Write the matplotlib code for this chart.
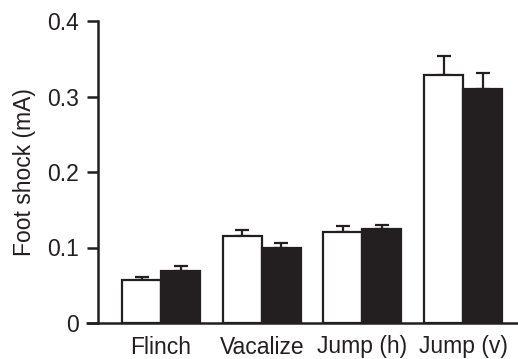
import matplotlib
matplotlib.use("Agg")
import matplotlib.pyplot as plt
import numpy as np

categories = ["Flinch", "Vacalize", "Jump (h)", "Jump (v)"]
white_vals = [0.057, 0.115, 0.120, 0.328]
white_err = [0.004, 0.008, 0.009, 0.025]
black_vals = [0.069, 0.099, 0.124, 0.310]
black_err = [0.007, 0.007, 0.006, 0.021]
yticks = [0, 0.1, 0.2, 0.3, 0.4]
ytick_labels = ["0", "0.1", "0.2", "0.3", "0.4"]

plt.rcParams['font.family'] = ['Liberation Sans', 'DejaVu Sans']
fig = plt.figure(figsize=(5.18, 3.59), dpi=100)
ax = fig.add_axes([98/518, 36/359, 420/518, 302/359])

x = np.arange(len(categories))
w = 0.387
dark = "#231f20"
lw = 1.6
ax.bar(x - w/2, white_vals, w, color="white", edgecolor=dark, linewidth=lw, zorder=2)
ax.bar(x + w/2, black_vals, w, color=dark, edgecolor=dark, linewidth=lw, zorder=2)
ax.errorbar(x - w/2, white_vals, yerr=[[0]*len(x), white_err], fmt="none",
            ecolor=dark, elinewidth=1.6, capsize=5, capthick=1.6, zorder=1)
ax.errorbar(x + w/2, black_vals, yerr=[[0]*len(x), black_err], fmt="none",
            ecolor=dark, elinewidth=1.6, capsize=5, capthick=1.6, zorder=1)

ax.set_xlim(-0.626, 3.545)
ax.set_ylim(0, 0.4)
ax.set_yticks(yticks)
ax.set_yticklabels(ytick_labels)
ax.set_xticks(x)
ax.set_xticklabels(categories)
ax.tick_params(axis="y", direction="out", length=8, width=1.8, pad=6,
               labelsize=16.5, colors=dark)
ax.tick_params(axis="x", length=0, pad=9, labelsize=16.5, colors=dark)
for s in ["top", "right", "bottom"]:
    ax.spines[s].set_visible(False)
ax.spines["left"].set_linewidth(1.8)
ax.spines["left"].set_color(dark)
ax.plot([-12/420, 1], [0, 0], transform=ax.transAxes, color=dark,
        linewidth=1.8, clip_on=False, zorder=3, solid_capstyle="butt")
ax.set_ylabel("Foot shock (mA)", fontsize=16.5, color=dark, labelpad=8)

fig.savefig("out.png", dpi=100)
